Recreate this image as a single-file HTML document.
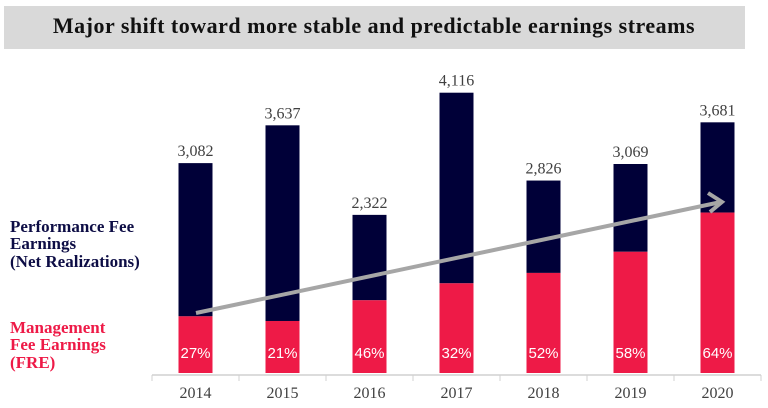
<!DOCTYPE html>
<html><head><meta charset="utf-8"><style>
body{margin:0;width:768px;height:408px;background:#fff;overflow:hidden;font-family:"Liberation Serif",serif}
svg{position:absolute;left:0;top:0}
</style></head><body>
<svg width="768" height="408">
<rect x="4" y="6" width="741" height="43" fill="#d9d9d9"/>
<text x="374" y="33" text-anchor="middle" font-size="22" letter-spacing="0.5" font-weight="bold" fill="#111">Major shift toward more stable and predictable earnings streams</text>
<g font-size="17" font-weight="bold">
<text x="10" y="232" fill="#0d0d45">Performance Fee</text>
<text x="10" y="249" fill="#0d0d45">Earnings</text>
<text x="10" y="267" fill="#0d0d45">(Net Realizations)</text>
<text x="10" y="333" fill="#ee1a47">Management</text>
<text x="10" y="350" fill="#ee1a47">Fee Earnings</text>
<text x="10" y="368" fill="#ee1a47">(FRE)</text>
</g>
<g id="plot"></g>
</svg>
<script>
const categories=["2014","2015","2016","2017","2018","2019","2020"];
const totals=[3082,3637,2322,4116,2826,3069,3681];
const frePct=[27,21,46,32,52,58,64];
const totalLabels=["3,082","3,637","2,322","4,116","2,826","3,069","3,681"];

const NS="http://www.w3.org/2000/svg";
const g=document.getElementById('plot');
const x0=152,pitch=87.0,baseY=373,scale=0.0681,bw=34;
function xC(i){return x0+pitch*(i+0.5);}
function yV(v){return baseY-v*scale;}
function mk(t,a){const e=document.createElementNS(NS,t);for(const k in a)e.setAttribute(k,a[k]);g.appendChild(e);return e;}
categories.forEach((c,i)=>{
  const cx=xC(i),top=yV(totals[i]),fre=yV(totals[i]*frePct[i]/100);
  const b1=mk('rect',{x:cx-bw/2,y:top,width:bw,height:fre-top,fill:'#000038'});
  
  
  const b2=mk('rect',{x:cx-bw/2,y:fre,width:bw,height:baseY-fre,fill:'#ee1a47'});
  
  
  const t=mk('text',{x:cx,y:top-7,'text-anchor':'middle','font-size':'16',fill:'#404040'});
  t.textContent=totalLabels[i];
  
  
  const p=mk('text',{x:cx,y:358,'text-anchor':'middle','font-size':'15',fill:'#fff','font-family':'Liberation Sans, sans-serif'});
  p.textContent=frePct[i]+'%';
  
  
  const xl=mk('text',{x:cx,y:398,'text-anchor':'middle','font-size':'16',fill:'#404040'});
  xl.textContent=c;
  
  
});
const ax=mk('line',{x1:x0,x2:x0+pitch*categories.length,y1:375,y2:375,stroke:'#d0d0d0','stroke-width':1.5});


for(let i=0;i<=categories.length;i++){
  const tk=mk('line',{x1:x0+pitch*i,x2:x0+pitch*i,y1:375,y2:381,stroke:'#d0d0d0','stroke-width':1});
  
  
}
const ar=mk('line',{x1:196,y1:313,x2:721,y2:202,stroke:'#a6a6a6','stroke-width':4});


const ah=mk('polyline',{points:'708,193 722,202 710,212',fill:'none',stroke:'#a6a6a6','stroke-width':4,'stroke-linejoin':'miter'});


</script>
</body></html>
